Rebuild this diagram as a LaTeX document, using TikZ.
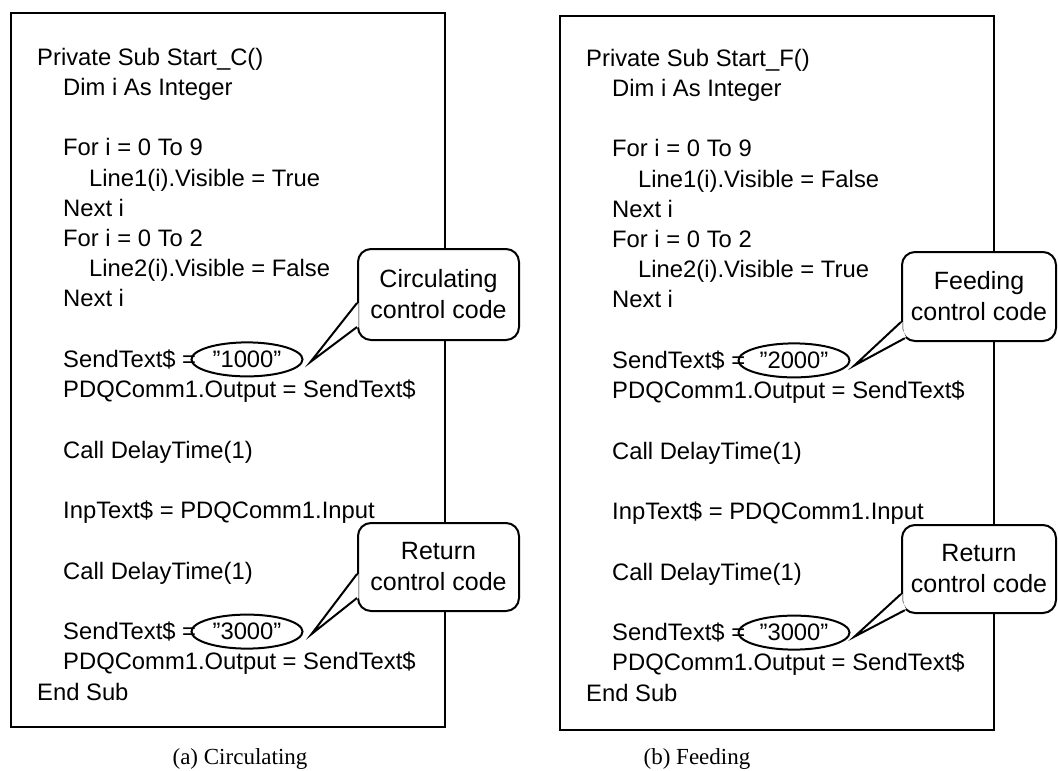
\documentclass[tikz,border=0pt]{standalone}
\usepackage{fontspec}
\setmainfont{Liberation Sans}
\newfontfamily\capfont{Liberation Serif}
\usetikzlibrary{shapes.geometric,calc}
\tikzset{
  code/.style={anchor=base west, inner sep=0pt, font=\fontsize{23.8}{28}\selectfont},
  callbox/.style={draw, fill=white, line width=2pt, rounded corners=13pt, inner sep=0pt,
    align=center, font=\fontsize{25}{31}\selectfont},
  quoteell/.style={draw, ellipse, line width=2pt, inner sep=0pt, minimum width=111pt,
    minimum height=34pt, font=\fontsize{23.8}{28}\selectfont},
  frame/.style={draw, line width=2pt, inner sep=0pt},
  tail/.style={line width=2pt, line join=miter},
  subcap/.style={font=\capfont\fontsize{23}{27}\selectfont, anchor=base, inner sep=0pt},
}
\begin{document}
\begin{tikzpicture}[x=1pt,y=-1pt]
\useasboundingbox (0,0) rectangle (1058,771);
% frames
\node[frame, minimum width=434pt, minimum height=714pt] (boxA) at (228,370) {};
\node[frame, minimum width=434pt, minimum height=714pt] (boxB) at (777,373) {};
% ---- left code ----
\node[code] (a0)  at (37, 65)    {Private Sub Start\_C()};
\node[code] (a1)  at (63, 95.2)  {Dim i As Integer};
\node[code] (a3)  at (63, 155.7) {For i = 0 To 9};
\node[code] (a4)  at (89, 186)   {Line1(i).Visible = True};
\node[code] (a5)  at (63, 216.2) {Next i};
\node[code] (a6)  at (63, 246.4) {For i = 0 To 2};
\node[code] (a7)  at (89, 276.7) {Line2(i).Visible = False};
\node[code] (a8)  at (63, 306.9) {Next i};
\node[code] (a10) at (63, 367.4) {SendText\$ =};
\node[code] (a11) at (63, 397.6) {PDQComm1.Output = SendText\$};
\node[code] (a13) at (63, 458.1) {Call DelayTime(1)};
\node[code] (a15) at (63, 518.6) {InpText\$ = PDQComm1.Input};
\node[code] (a17) at (63, 579.1) {Call DelayTime(1)};
\node[code] (a19) at (63, 639.6) {SendText\$ =};
\node[code] (a20) at (63, 669.8) {PDQComm1.Output = SendText\$};
\node[code] (a21) at (37, 700)   {End Sub};
\node[quoteell] (qa1) at (247, 359.4) {”1000”};
\node[quoteell] (qa2) at (247, 631.6) {”3000”};
% ---- right code ----
\node[code] (b0)  at (586, 66)    {Private Sub Start\_F()};
\node[code] (b1)  at (612, 96.2)  {Dim i As Integer};
\node[code] (b3)  at (612, 156.7) {For i = 0 To 9};
\node[code] (b4)  at (638, 187)   {Line1(i).Visible = False};
\node[code] (b5)  at (612, 217.2) {Next i};
\node[code] (b6)  at (612, 247.4) {For i = 0 To 2};
\node[code] (b7)  at (638, 277.7) {Line2(i).Visible = True};
\node[code] (b8)  at (612, 307.9) {Next i};
\node[code] (b10) at (612, 368.4) {SendText\$ =};
\node[code] (b11) at (612, 398.6) {PDQComm1.Output = SendText\$};
\node[code] (b13) at (612, 459.1) {Call DelayTime(1)};
\node[code] (b15) at (612, 519.6) {InpText\$ = PDQComm1.Input};
\node[code] (b17) at (612, 580.1) {Call DelayTime(1)};
\node[code] (b19) at (612, 640.6) {SendText\$ =};
\node[code] (b20) at (612, 670.8) {PDQComm1.Output = SendText\$};
\node[code] (b21) at (586, 701)   {End Sub};
\node[quoteell] (qb1) at (794, 360.4) {”2000”};
\node[quoteell] (qb2) at (794, 632.6) {”3000”};
% ---- callouts ----
\node[callbox, minimum width=161pt, minimum height=91pt] (ca1) at (438.5, 294.5) {Circulating\\control code};
\node[callbox, minimum width=161pt, minimum height=88pt] (ca2) at (438.5, 567) {Return\\control code};
\node[callbox, minimum width=154pt, minimum height=89pt] (cb1) at (979, 296.5) {Feeding\\control code};
\node[callbox, minimum width=154pt, minimum height=88pt] (cb2) at (979, 569) {Return\\control code};
% tails, left
\coordinate (ta1) at ($(qa1.east)+(7,2.5)$);
\coordinate (ua1) at ($(ca1.south west)+(0,-38)$);
\coordinate (la1) at ($(ca1.south west)+(0,-14)$);
\fill[white] (ta1) -- ($(ua1)+(1.5,0)$) -- ($(la1)+(1.5,0)$) -- cycle;
\draw[tail] (ua1) -- (ta1) -- (la1);
\coordinate (ta2) at ($(qa2.east)+(8,2.5)$);
\coordinate (ua2) at ($(ca2.south west)+(0,-38)$);
\coordinate (la2) at ($(ca2.south west)+(0,-14)$);
\fill[white] (ta2) -- ($(ua2)+(1.5,0)$) -- ($(la2)+(1.5,0)$) -- cycle;
\draw[tail] (ua2) -- (ta2) -- (la2);
% tails, right
\coordinate (tb1) at ($(qb1.east)+(4,5)$);
\coordinate (ub1) at ($(cb1.south west)+(0,-20)$);
\coordinate (lb1) at ($(cb1.south west)+(3.8,-3.8)$);
\fill[white] (tb1) -- ($(ub1)+(1.5,0)$) -- ($(cb1.south west)+(1.5,-13)$) -- ($(lb1)+(1.2,-1.2)$) -- cycle;
\draw[tail] (ub1) -- (tb1) -- (lb1);
\coordinate (tb2) at ($(qb2.east)+(4,4)$);
\coordinate (ub2) at ($(cb2.south west)+(0,-20)$);
\coordinate (lb2) at ($(cb2.south west)+(3.8,-3.8)$);
\fill[white] (tb2) -- ($(ub2)+(1.5,0)$) -- ($(cb2.south west)+(1.5,-13)$) -- ($(lb2)+(1.2,-1.2)$) -- cycle;
\draw[tail] (ub2) -- (tb2) -- (lb2);
% captions
\node[subcap] (capa) at (240, 764) {(a) Circulating};
\node[subcap] (capb) at (697, 764) {(b) Feeding};
\end{tikzpicture}
\end{document}
